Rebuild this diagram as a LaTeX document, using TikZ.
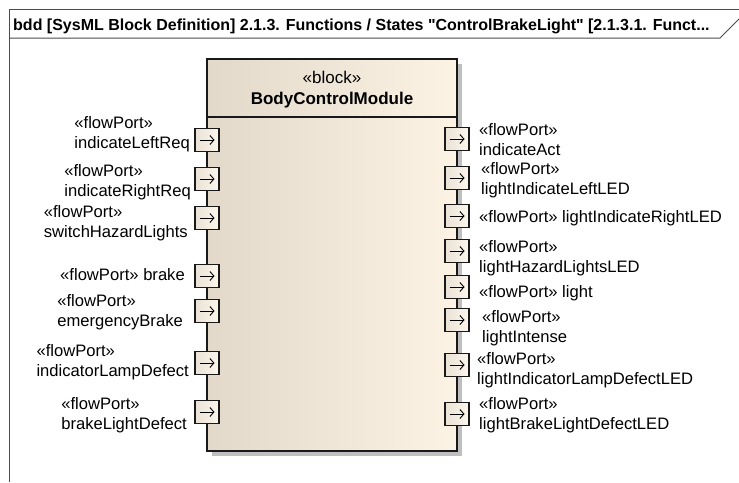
\documentclass[tikz,border=0pt]{standalone}
\usepackage{fontspec}
\setmainfont{Liberation Sans}
\usetikzlibrary{shadows,arrows.meta}

\definecolor{blockL}{RGB}{226,217,202}
\definecolor{blockR}{RGB}{252,243,229}
\definecolor{portL}{RGB}{234,226,213}
\definecolor{portR}{RGB}{252,246,237}

\tikzset{
  frameline/.style={draw=black!70, line width=1pt},
  blockbox/.style={draw=black!90, line width=1.2pt, left color=blockL, right color=blockR,
    minimum width=250pt, minimum height=392pt, inner sep=0pt,
    drop shadow={shadow xshift=5pt, shadow yshift=-5pt, fill=black!25, opacity=1}},
  port/.style={draw=black!90, line width=1.1pt, left color=portL, right color=portR,
    minimum width=24pt, minimum height=23pt, inner sep=0pt,
    path picture={\draw[black, line width=0.9pt, -{Straight Barb[length=4pt,width=9pt]}]
      ([xshift=-7.5pt]path picture bounding box.center) -- ([xshift=7.5pt]path picture bounding box.center);}},
  plabel/.style={align=left, inner sep=0pt, font=\fontsize{16.6}{20}\selectfont},
}

\begin{document}
\begin{tikzpicture}[x=1pt, y=-1pt]
  \useasboundingbox (0,0) rectangle (739,482);

  % diagram frame
  \draw[frameline] (9,482) -- (9,9) -- (739,9);
  \draw[frameline] (9,38) -- (720,38) -- (739,19);
  \node[anchor=base west, inner sep=0pt, font=\bfseries\fontsize{16}{16}\selectfont] (title) at (13,30)
    {bdd [SysML Block Definition] 2.1.3. Functions / States \textquotedbl ControlBrakeLight\textquotedbl\ [2.1.3.1. Funct...};

  % the block
  \node[blockbox] (bcm) at (332,255) {};
  \draw[black!90, line width=1.2pt] (bcm.west |- 0,117) -- (bcm.east |- 0,117);
  \node[align=center, inner sep=0pt, font=\fontsize{17}{21}\selectfont] (bcmname) at (332,90)
    {«block»\\\textbf{BodyControlModule}};

  % ports on the left
  \node[port] (pLeftReq) at (207,140) {};
  \node[port] (pRightReq) at (207,179) {};
  \node[port] (pHazard) at (207,218) {};
  \node[port] (pBrake) at (207,276) {};
  \node[port] (pEmBrake) at (207,311) {};
  \node[port] (pLampDef) at (207,363) {};
  \node[port] (pBrakeDef) at (207,412) {};

  \node[plabel, anchor=east] (lLeftReq) at (190,134) {«flowPort»\\indicateLeftReq};
  \node[plabel, anchor=east] (lRightReq) at (191,182) {«flowPort»\\indicateRightReq};
  \node[plabel, anchor=east] (lHazard) at (188,223) {«flowPort»\\switchHazardLights};
  \node[plabel, anchor=east] (lBrake) at (185,275) {«flowPort» brake};
  \node[plabel, anchor=east] (lEmBrake) at (183,312) {«flowPort»\\emergencyBrake};
  \node[plabel, anchor=east] (lLampDef) at (189,362) {«flowPort»\\indicatorLampDefect};
  \node[plabel, anchor=east] (lBrakeDef) at (187,415) {«flowPort»\\brakeLightDefect};

  % ports on the right
  \node[port] (pAct) at (457,139) {};
  \node[port] (pLeftLED) at (457,178) {};
  \node[port] (pRightLED) at (457,216) {};
  \node[port] (pHazLED) at (457,251) {};
  \node[port] (pLight) at (457,287) {};
  \node[port] (pIntense) at (457,320) {};
  \node[port] (pLampLED) at (457,365) {};
  \node[port] (pBrakeLED) at (457,414) {};

  \node[plabel, anchor=west] (lAct) at (479,140) {«flowPort»\\indicateAct};
  \node[plabel, anchor=west] (lLeftLED) at (481,180) {«flowPort»\\lightIndicateLeftLED};
  \node[plabel, anchor=west] (lRightLED) at (479,218) {«flowPort» lightIndicateRightLED};
  \node[plabel, anchor=west] (lHazLED) at (479,258) {«flowPort»\\lightHazardLightsLED};
  \node[plabel, anchor=west] (lLight) at (479,293) {«flowPort» light};
  \node[plabel, anchor=west] (lIntense) at (482,328) {«flowPort»\\lightIntense};
  \node[plabel, anchor=west] (lLampLED) at (477,370) {«flowPort»\\lightIndicatorLampDefectLED};
  \node[plabel, anchor=west] (lBrakeLED) at (479,415) {«flowPort»\\lightBrakeLightDefectLED};
\end{tikzpicture}
\end{document}
